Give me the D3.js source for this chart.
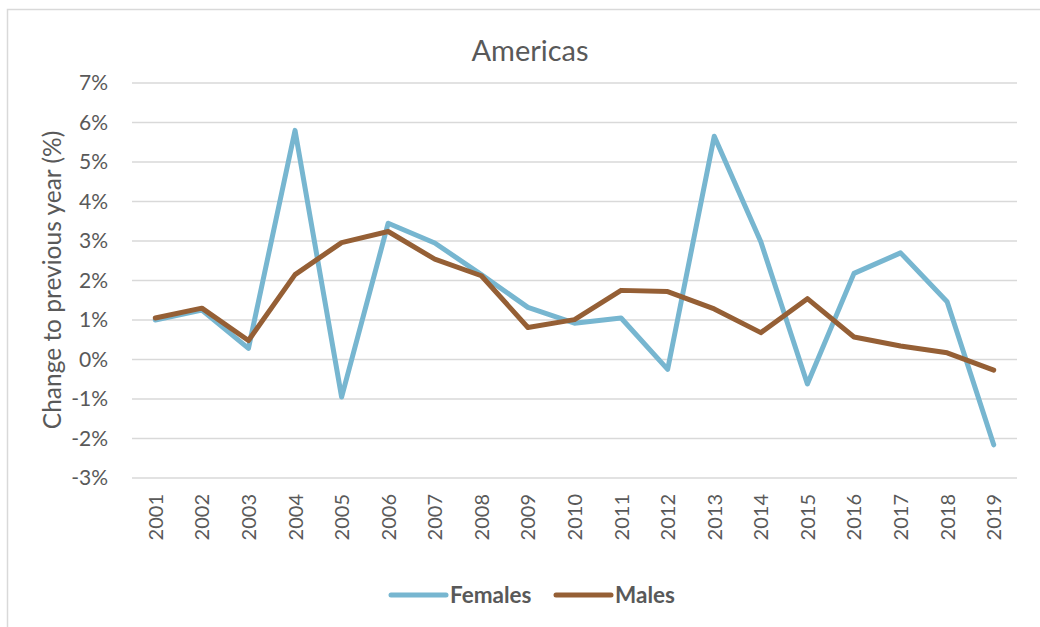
<!DOCTYPE html>
<html><head><meta charset="utf-8">
<script src="https://cdn.jsdelivr.net/npm/d3@7"></script>
<style>body{margin:0;background:#fff;} svg{display:block;font-family:Lato,"Open Sans",sans-serif;}</style>
</head><body>
<svg id="chart" width="1040" height="627"></svg>
<script>
const years = ["2001","2002","2003","2004","2005","2006","2007","2008","2009","2010","2011","2012","2013","2014","2015","2016","2017","2018","2019"];
const females = [1.0,1.25,0.28,5.8,-0.95,3.45,2.95,2.15,1.32,0.92,1.05,-0.25,5.65,2.98,-0.62,2.18,2.7,1.46,-2.16];
const males = [1.05,1.3,0.48,2.15,2.96,3.24,2.54,2.12,0.81,1.01,1.75,1.72,1.28,0.68,1.54,0.57,0.34,0.17,-0.27];
const yTicks = [-3,-2,-1,0,1,2,3,4,5,6,7];
const seriesNames = ["Females","Males"];
const colors = ["#77B6D0","#955F35"];

const svg = d3.select("#chart");
const pLeft = 132, pRight = 1017, pTop = 83, pBottom = 478;
svg.append("rect").attr("x",7.5).attr("y",9.5).attr("width",1100).attr("height",700)
  .attr("fill","none").attr("stroke","#d9d9d9").attr("stroke-width",1.5);

const x = d3.scalePoint().domain(years).range([pLeft, pRight]).padding(0.5);
const y = d3.scaleLinear().domain([-3,7]).range([pBottom, pTop]);

// gridlines
svg.append("g").selectAll("line").data(yTicks).join("line")
  .attr("x1",pLeft).attr("x2",pRight).attr("y1",d=>y(d)).attr("y2",d=>y(d))
  .attr("stroke","#d9d9d9").attr("stroke-width",1.5);

// y axis
const yAxis = d3.axisLeft(y).tickValues(yTicks).tickFormat(d=>d+"%").tickSize(0).tickPadding(0);
const gy = svg.append("g").attr("transform",`translate(${pLeft-24},0)`).call(yAxis);
gy.select(".domain").remove();
gy.selectAll("text").attr("fill","#595959").attr("font-size",21).attr("font-family","Lato,sans-serif");

// x axis
const xAxis = d3.axisBottom(x).tickSize(0).tickPadding(0);
const gx = svg.append("g").attr("transform",`translate(0,${pBottom})`).call(xAxis);
gx.select(".domain").remove();
gx.selectAll("text").attr("fill","#595959").attr("font-size",20).attr("font-family","Lato,sans-serif")
  .attr("transform","rotate(-90)").attr("text-anchor","end").attr("dy","0.35em").attr("x",-16).attr("y",0);

// lines
const line = d3.line().x((d,i)=>x(years[i])).y(d=>y(d));
[females, males].forEach((s,k)=>{
  svg.append("path").datum(s).attr("d",line).attr("fill","none")
    .attr("stroke",colors[k]).attr("stroke-width",5).attr("stroke-linejoin","round").attr("stroke-linecap","round");
});

// title
svg.append("text").attr("x",530).attr("y",61).attr("text-anchor","middle")
  .attr("font-size",29).attr("fill","#595959").text("Americas");

// y title
svg.append("text").attr("transform","translate(61,280) rotate(-90)").attr("text-anchor","middle")
  .attr("font-size",24.5).attr("fill","#595959").text("Change to previous year (%)");

// legend
const legX = [391, 556];
seriesNames.forEach((n,k)=>{
  svg.append("line").attr("x1",legX[k]).attr("x2",legX[k]+55).attr("y1",595).attr("y2",595)
    .attr("stroke",colors[k]).attr("stroke-width",5).attr("stroke-linecap","round");
  svg.append("text").attr("x",legX[k]+59).attr("y",603).attr("font-size",22.5).attr("font-weight","bold")
    .attr("fill","#595959").text(n);
});
</script>
</body></html>
